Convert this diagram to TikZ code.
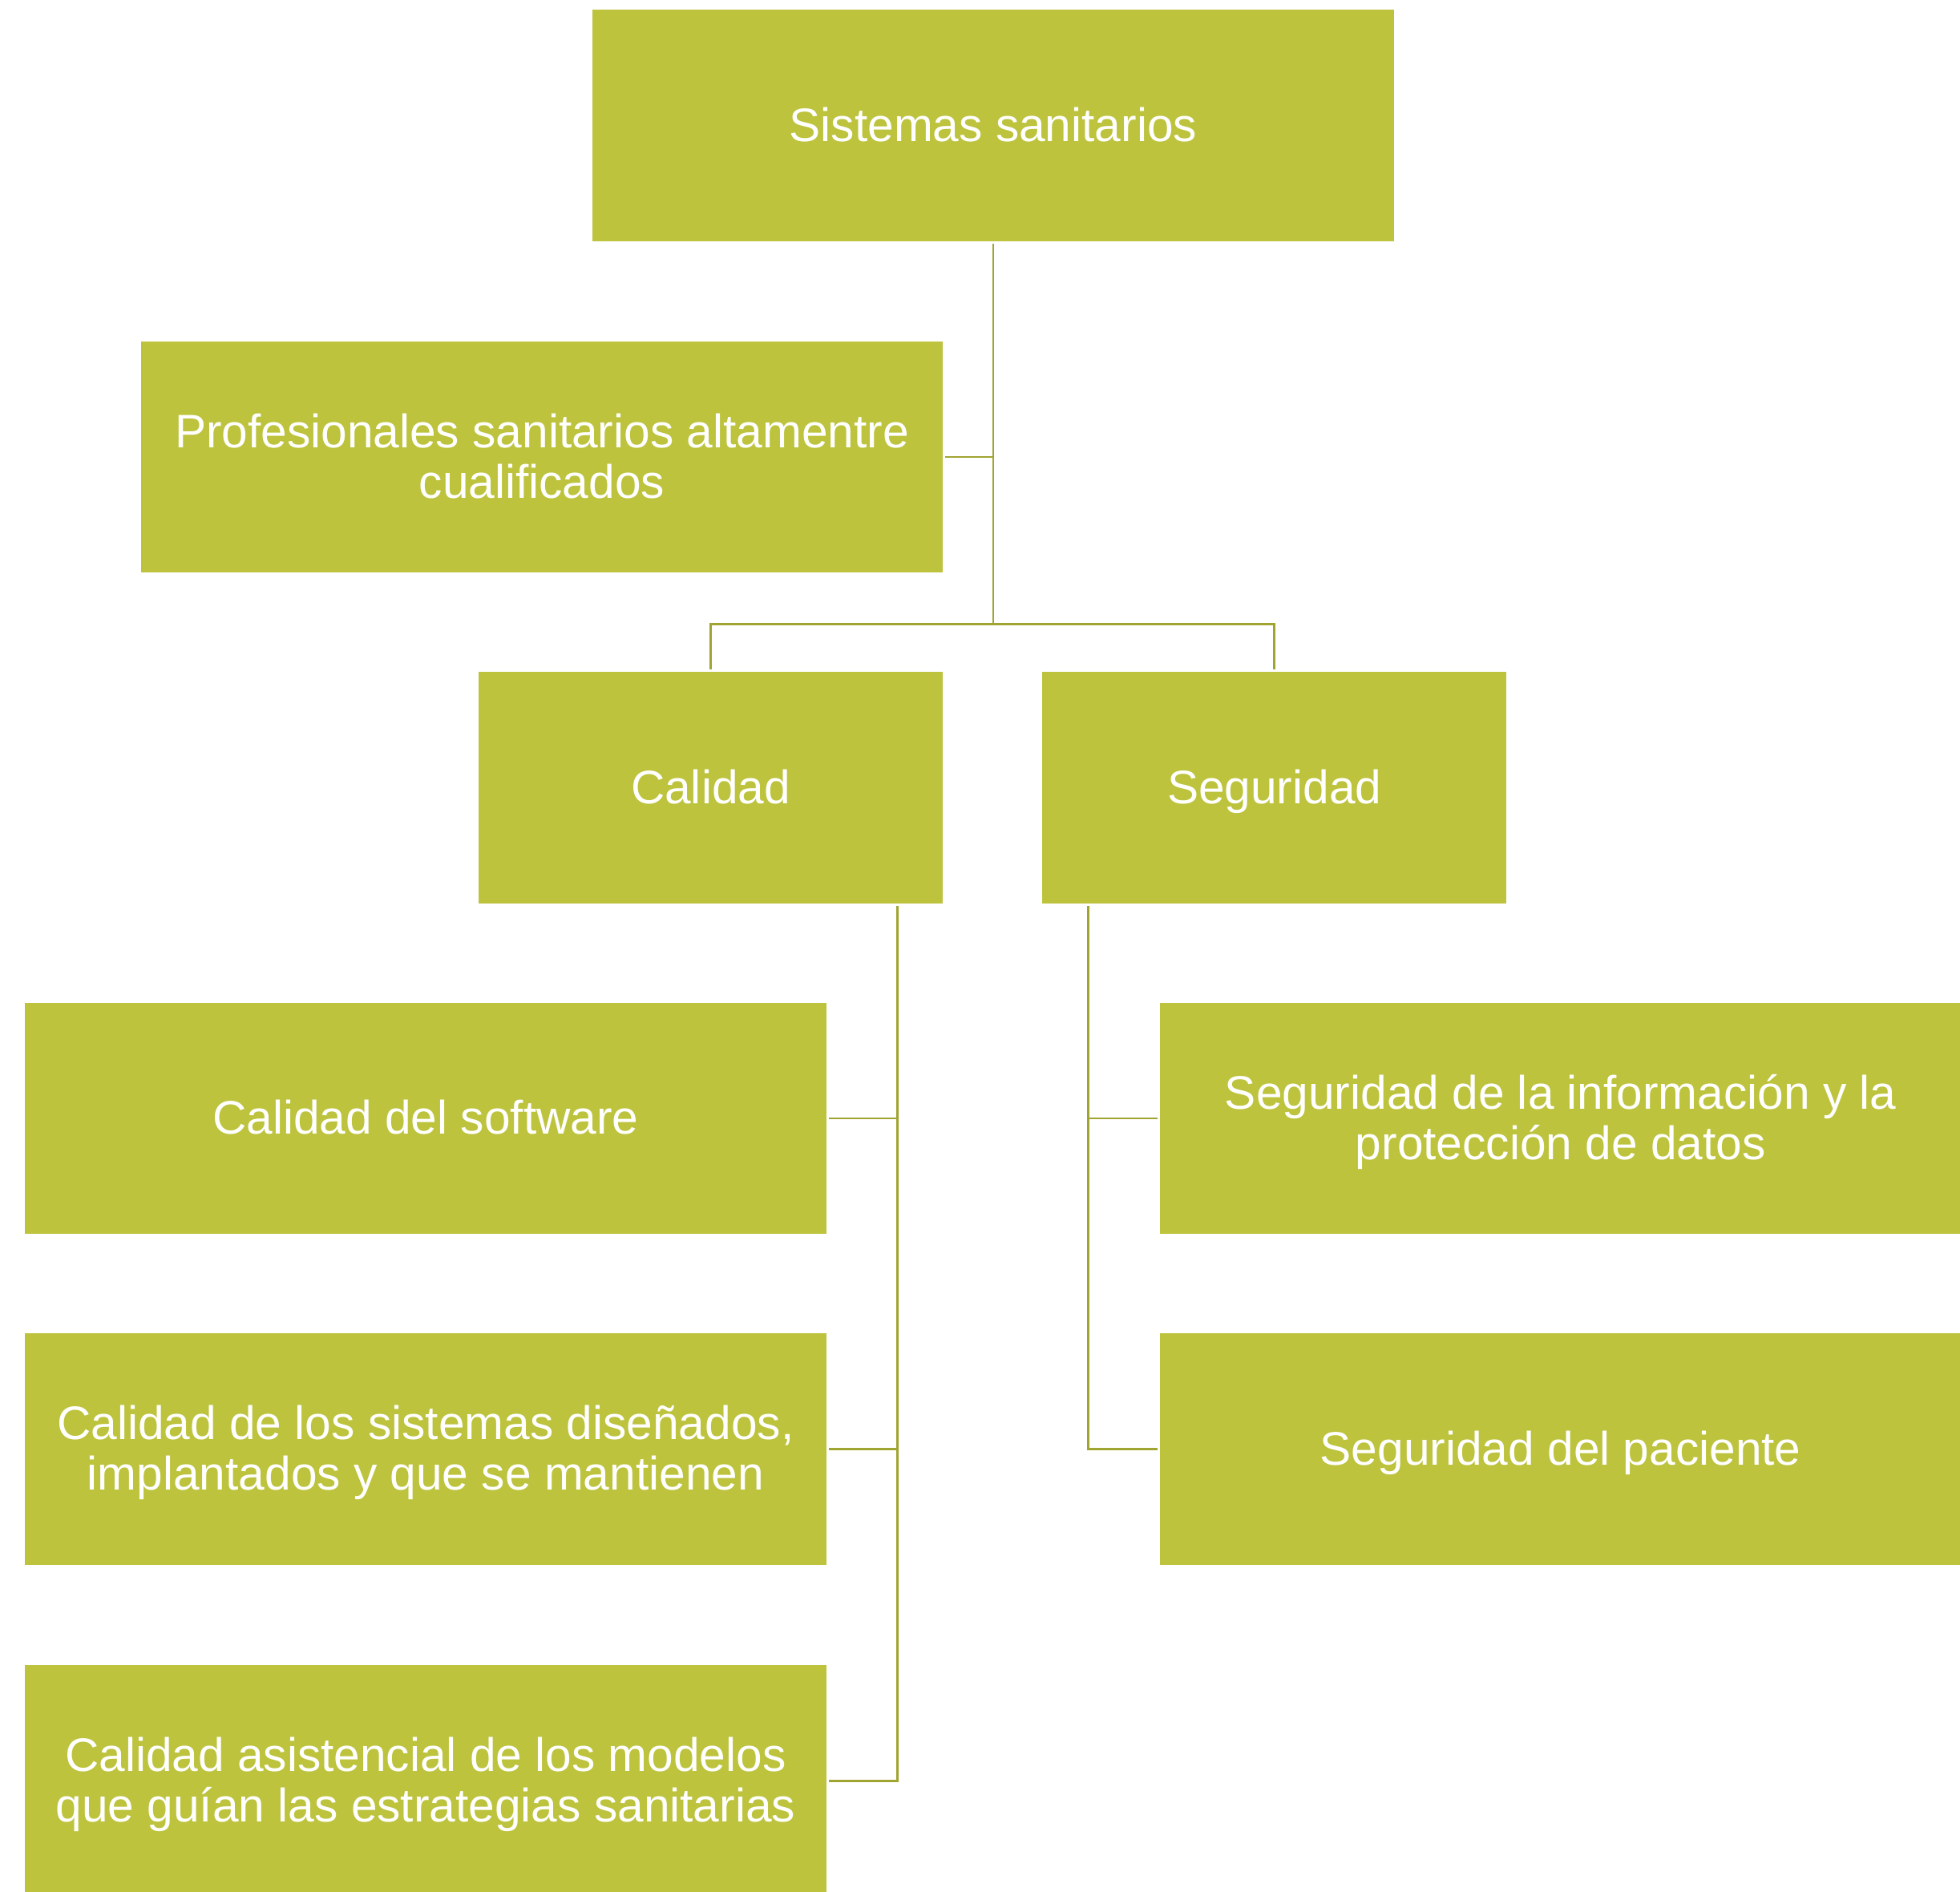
\documentclass[tikz,border=0pt]{standalone}
\usepackage{fontspec}
\setmainfont{Liberation Sans}
\usepackage{tikz}
\usetikzlibrary{calc}
\definecolor{oliva}{RGB}{189,195,61}
\definecolor{olivaoscuro}{RGB}{160,165,50}

\begin{document}
\begin{tikzpicture}[
  box/.style={fill=oliva, text=white, minimum width=6.41cm, minimum height=1.85cm,
    inner sep=0pt, outer sep=0.6pt, text depth=0.5pt, align=center,
    font=\fontsize{10.7}{11.4}\selectfont},
  smallbox/.style={box, minimum width=3.71cm},
  link/.style={draw=olivaoscuro, line width=0.48pt}]
\useasboundingbox (0,0) rectangle (15.68,-15.13);
%%%%% Boxes %%%%%
\node[box] (sis) at (7.945,-1.005) {Sistemas sanitarios};
\node[box] (prof) at (4.335,-3.655) {Profesionales sanitarios altamentre\\cualificados};
\node[smallbox] (cal) at (5.685,-6.30) {Calidad};
\node[smallbox] (seg) at (10.195,-6.30) {Seguridad};
\node[box] (csw) at (3.405,-8.945) {Calidad del software};
\node[box] (csis) at (3.405,-11.59) {Calidad de los sistemas diseñados,\\implantados y que se mantienen};
\node[box] (casis) at (3.405,-14.245) {Calidad asistencial de los modelos\\que guían las estrategias sanitarias};
\node[box] (sinf) at (12.485,-8.945) {Seguridad de la información y la\\protección de datos};
\node[box] (spac) at (12.485,-11.59) {Seguridad del paciente};
%%%%% Links %%%%%
\coordinate (split) at ($(sis.south)+(0,-3.04)$);
\draw[link] (sis.south) |- (prof.east);
\draw[link] (sis.south) -- (split) -| (cal.north);
\draw[link] (split) -| (seg.north);
\foreach \kid in {csw,csis,casis}{
\draw[link] ($(cal.south east)+(-0.383,0)$) |- (\kid.east);
}
\foreach \kid in {sinf,spac}{
\draw[link] ($(seg.south west)+(0.388,0)$) |- (\kid.west);
}
\end{tikzpicture}
\end{document}
